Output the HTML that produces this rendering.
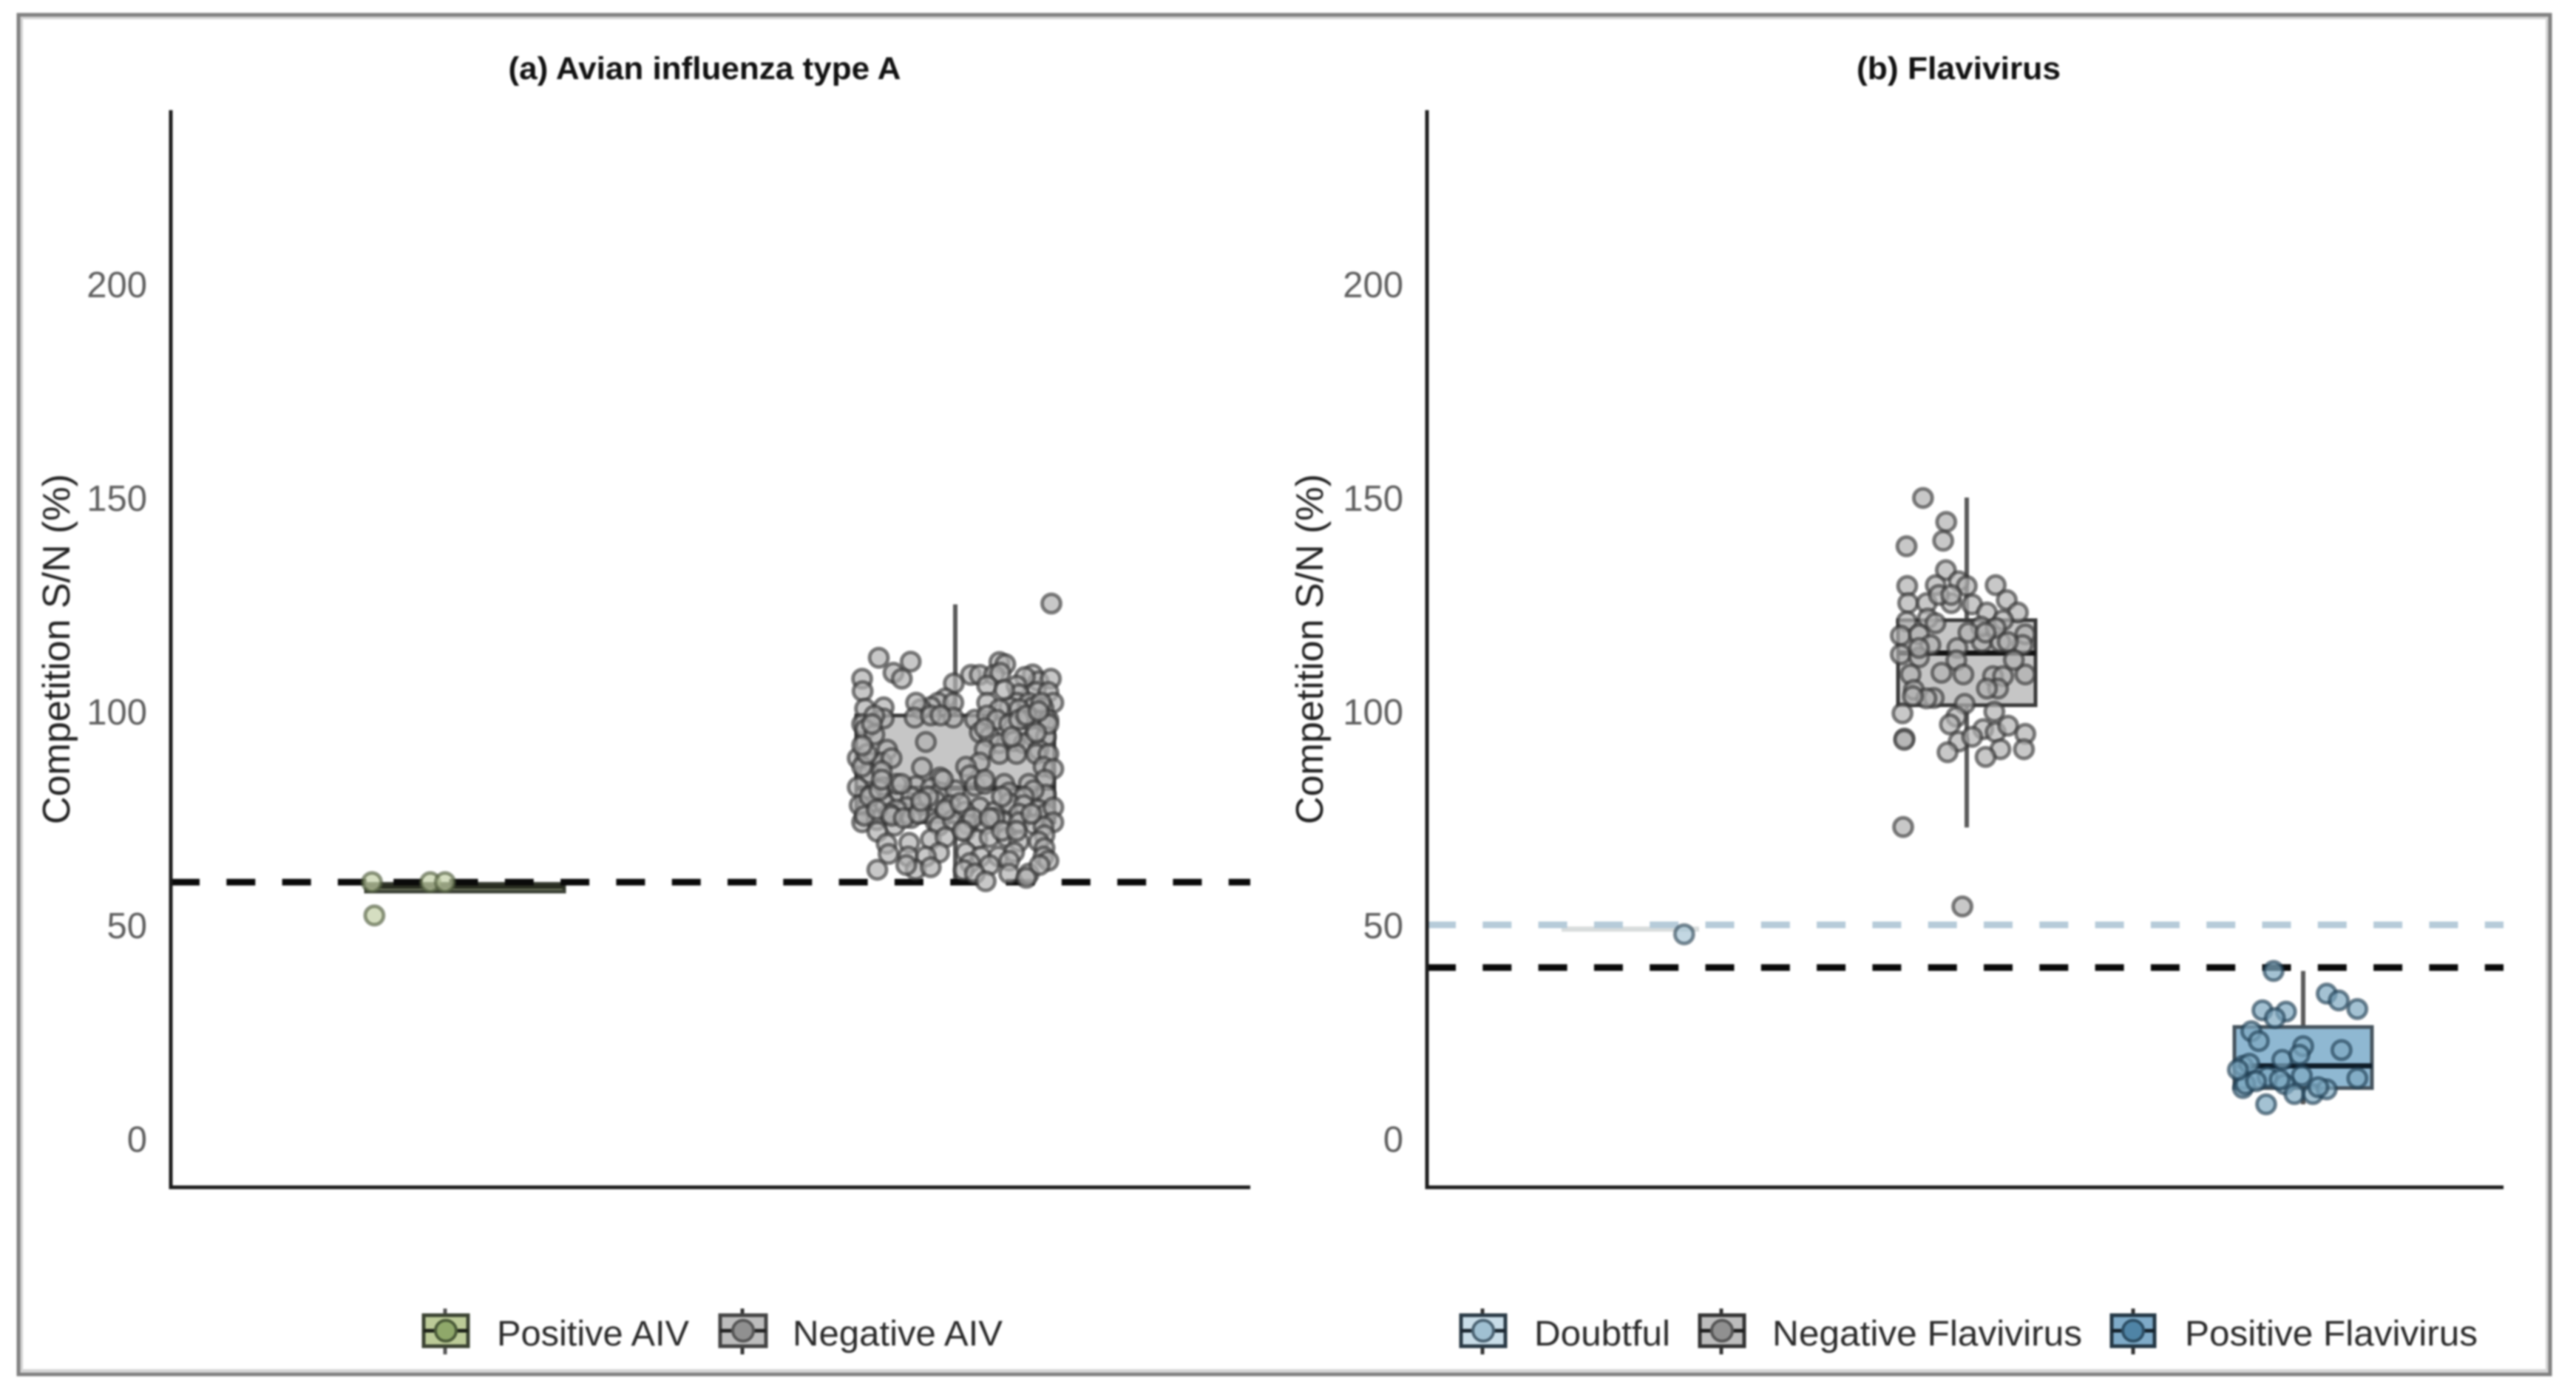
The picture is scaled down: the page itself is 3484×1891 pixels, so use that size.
<!DOCTYPE html>
<html lang="en">
<head>
<meta charset="utf-8">
<title>Competition S/N boxplots</title>
<style>
html,body{margin:0;padding:0;background:#fff;}
body{width:3484px;height:1891px;overflow:hidden;}
svg{display:block;filter:blur(1.3px);font-family:"Liberation Sans",sans-serif;}
</style>
</head>
<body>
<svg id="chart" xmlns="http://www.w3.org/2000/svg" width="3484" height="1891" viewBox="0 0 3484 1891">
  <rect x="0" y="0" width="3484" height="1891" fill="#ffffff"/>
  <rect x="29" y="24" width="3416" height="1830" fill="none" stroke="#d4d4d4" stroke-width="4"/>
  <rect x="25" y="20" width="3424" height="1839" fill="none" stroke="#808080" stroke-width="5"/>
  <text x="953" y="107" text-anchor="middle" font-size="43" font-weight="bold" fill="#111" textLength="531" lengthAdjust="spacingAndGlyphs">(a) Avian influenza type A</text>
  <text x="2649" y="107" text-anchor="middle" font-size="43" font-weight="bold" fill="#111" textLength="276" lengthAdjust="spacingAndGlyphs">(b) Flavivirus</text>
  <text transform="translate(94,878) rotate(-90)" text-anchor="middle" font-size="52" fill="#222">Competition S/N (%)</text>
  <text transform="translate(1789,878) rotate(-90)" text-anchor="middle" font-size="52" fill="#222">Competition S/N (%)</text>
  <g id="ticks-a"></g>
  <g id="ticks-b"></g>
  <g id="boxes"></g>
  <g id="refs"></g>
  <g id="points"></g>
  <g stroke="#1c1c1c" stroke-width="5" fill="none">
    <path d="M231 149V1606H1691"/>
    <path d="M1930 149V1606H3386"/>
  </g>
  <g font-size="48" fill="#2a2a2a">
    <g>
      <line x1="602" x2="602" y1="1770" y2="1832" stroke="#555" stroke-width="5"/>
      <rect x="573" y="1779" width="60" height="42" fill="#bccb98" stroke="#3c4433" stroke-width="5"/>
      <line x1="573" x2="633" y1="1800" y2="1800" stroke="#1d2218" stroke-width="5"/>
      <circle cx="603" cy="1800" r="14" fill="#8fa86a" stroke="#4a5a38" stroke-width="4"/>
      <text x="672" y="1820" textLength="260" lengthAdjust="spacingAndGlyphs">Positive AIV</text>
    </g>
    <g>
      <line x1="1004" x2="1004" y1="1770" y2="1832" stroke="#333" stroke-width="5"/>
      <rect x="974" y="1779" width="62" height="42" fill="#bdbdbd" stroke="#444" stroke-width="5"/>
      <line x1="974" x2="1036" y1="1800" y2="1800" stroke="#222" stroke-width="5"/>
      <circle cx="1005" cy="1800" r="14" fill="#909090" stroke="#555" stroke-width="4"/>
      <text x="1072" y="1820" textLength="284" lengthAdjust="spacingAndGlyphs">Negative AIV</text>
    </g>
  </g>
  <g font-size="48" fill="#2a2a2a">
    <g>
      <line x1="2005" x2="2005" y1="1770" y2="1832" stroke="#333" stroke-width="5"/>
      <rect x="1976" y="1779" width="60" height="42" fill="#c9dde8" stroke="#2a3a46" stroke-width="5"/>
      <line x1="1976" x2="2036" y1="1800" y2="1800" stroke="#1a2630" stroke-width="5"/>
      <circle cx="2006" cy="1800" r="14" fill="#a0c0d2" stroke="#4a6272" stroke-width="4"/>
      <text x="2075" y="1820" textLength="184" lengthAdjust="spacingAndGlyphs">Doubtful</text>
    </g>
    <g>
      <line x1="2328" x2="2328" y1="1770" y2="1832" stroke="#333" stroke-width="5"/>
      <rect x="2299" y="1779" width="60" height="42" fill="#bdbdbd" stroke="#333" stroke-width="5"/>
      <line x1="2299" x2="2359" y1="1800" y2="1800" stroke="#1d1d1d" stroke-width="5"/>
      <circle cx="2329" cy="1800" r="14" fill="#909090" stroke="#555" stroke-width="4"/>
      <text x="2397" y="1820" textLength="419" lengthAdjust="spacingAndGlyphs">Negative Flavivirus</text>
    </g>
    <g>
      <line x1="2885" x2="2885" y1="1770" y2="1832" stroke="#333" stroke-width="5"/>
      <rect x="2856" y="1779" width="58" height="42" fill="#7fabc8" stroke="#243846" stroke-width="5"/>
      <line x1="2856" x2="2914" y1="1800" y2="1800" stroke="#14222c" stroke-width="5"/>
      <circle cx="2885" cy="1800" r="14" fill="#4f84a6" stroke="#2c4e64" stroke-width="4"/>
      <text x="2955" y="1820" textLength="396" lengthAdjust="spacingAndGlyphs">Positive Flavivirus</text>
    </g>
  </g>
</svg>
<script>
var yTickLabels = [0, 50, 100, 150, 200];
var categoriesA = ["Positive AIV", "Negative AIV"];
var categoriesB = ["Doubtful", "Negative Flavivirus", "Positive Flavivirus"];
var cutoffA = [60];
var cutoffB = [40];
var doubtfulCutoffB = [50];

// box stats: [whisker low, q1, median, q3, whisker high]
var statsPositiveAiv = [57.8, 57.8, 59, 59.6, 59.6];
var statsNegativeAiv = [60, 74, 82, 99, 125];
var statsDoubtful = [49, 49, 49, 49, 49];
var statsNegativeFlavi = [72.8, 101.4, 113.6, 121.3, 150];
var statsPositiveFlavi = [8, 11.8, 17, 26.1, 39.2];

var positiveAivJitter = [-0.19, -0.071, -0.041, -0.185];
var positiveAivValues = [60, 60, 60, 52.2];

var negativeAivJitter = [0.196,
 -0.156,-0.091,0.09,0.102,
 -0.126,-0.109,-0.19,0.032,0.05,0.079,0.092,0.158,0.17,0.195,0.142,
 -0.189,-0.003,0.065,0.125,0.165,0.19,0.13,
 -0.184,-0.146,-0.02,-0.035,-0.05,-0.07,-0.08,-0.004,0.065,0.125,0.15,0.2,0.18,0.16,0.11,0.13,0.09,
 -0.146,-0.19,-0.165,-0.083,-0.05,-0.004,0.04,0.065,0.085,0.11,0.15,0.175,0.19,-0.03,0.13,
 -0.184,-0.165,-0.06,0.05,0.07,0.09,0.12,0.16,0.185,0.14,0.17,
 -0.139,-0.199,-0.17,-0.15,0.06,0.09,0.125,0.165,0.19,-0.13,0.05,0.18,
 -0.068,-0.031,-0.176,-0.19,-0.15,0.022,0.03,0.2,0.183,
 -0.146,-0.199,-0.171,-0.114,-0.08,-0.05,-0.03,0,0.04,0.06,0.1,0.15,0.185,-0.12,-0.09,0.11,0.16,0.14,
 -0.18,-0.144,-0.099,-0.068,-0.04,-0.01,-0.195,-0.12,0.05,0.08,0.11,0.14,0.17,0.185,0.2,0.02,-0.02,0.13,
 -0.19,-0.16,-0.124,-0.09,-0.04,-0.033,-0.005,0.025,0.06,0.1,0.13,0.16,0.2,0.18,0.08,
 -0.159,-0.14,-0.094,-0.05,-0.02,0.02,0.045,0.07,0.105,0.13,0.182,0.17,
 -0.136,-0.096,-0.033,-0.06,0.022,0.052,0.088,0.12,0.182,0.18,0.19,0.03,0.07,0.11,
 -0.159,-0.081,-0.1,-0.05,0.017,0.04,0.062,0.11,0.15,0.172,0.145,
 -0.175,-0.155,-0.135,-0.185,-0.16,-0.13,-0.105,-0.075,-0.055,-0.02,0.01,0.035,0.07,0.095,0.125,0.155,
 -0.18,-0.15,-0.11,-0.07,-0.025,0.015,0.06,0.095,0.175,0.19,0.165,0.145,0.115,0.06,0.1,0.17,-0.17,-0.19];
var negativeAivValues = [125.2,
 112.5,111.6,111.5,111,
 109,107.6,107.6,108.5,108.5,108.5,109,108.6,107,107.6,108,
 104.7,106.5,106,106,104.5,104.5,104,
 100.6,100.9,103,102,101,100.5,102,102,102,102,102,102,100.7,101,101,100.5,100.5,
 98.3,97,99,98.5,99,98.5,98,99,98,97,98,98,98,99,98,
 95.7,94.5,92.8,95,94,92.5,93,94,94,92.5,91,
 91,89,88,88,91,90,90,90,90,89,88,87,
 86.8,84.5,85.4,87,86,87,85,86.5,84,
 82.2,82.2,80.4,80.4,82.5,82,81,81.5,82.5,83,83,83,80.5,83,80,81,81.5,80,
 77.6,78.4,77.6,78.1,79,78,78,77,77.5,76.5,78.5,78,77,76,77.5,76.5,76.5,76,
 74,74.5,73.2,75,74,73.2,74.5,73.5,73.5,74,74,73.5,74,73,75,
 71.8,69,69.2,70,70.5,72,70,70.5,70.5,69.5,71,69.5,
 66.6,66,66.9,66,67,66,66,67,68,66,65,64.5,64,65,
 62.9,62.9,64,63.5,62.8,62,60.2,62,62,64,61,
 80,81.5,76,75.5,77,75.5,75,76,80,77,78.5,75,75,72,72,76,
 90,84,83,79,84,72,84,80,102,97,95,99,94,96,105,100,97,92];

var doubtfulJitter = [0.16];
var doubtfulValues = [47.8];

var negativeFlaviJitter = [-0.13,-0.061,-0.07,-0.179,-0.062,-0.177,-0.092,-0.024,0.086,-0.174,-0.119,-0.046,-0.083,0,0.016,0.06,0.119,0.152,0.108,-0.116,-0.178,-0.196,-0.142,-0.108,-0.028,0.045,0.1,0.174,-0.196,-0.142,-0.031,-0.075,-0.01,-0.167,0.078,0.108,0.174,0.093,-0.157,-0.098,0.06,-0.006,-0.191,0.082,-0.031,-0.05,-0.185,-0.186,0.049,0.086,0.123,0.174,-0.024,0.016,-0.057,0.1,0.056,0.17,-0.189,-0.013,0.042,0.086,0.005,-0.093,0.056,0.166,0.122,-0.046,-0.142,-0.12,0.14,-0.16];
var negativeFlaviValues = [149.9,144.3,139.9,138.6,133,129.3,129.5,130.4,129.5,125.3,125.3,125.3,127.2,129.3,125,123.1,126,123.1,121.3,121.7,121,117.7,118,115.5,114.8,116.2,116.2,118,113.3,112.6,111.9,109,108.6,108.6,108.2,108.2,108.6,105.3,105,103.1,105.3,101.7,99.5,99.9,98.7,96.9,93.6,93.3,95.8,95.1,96.6,94.7,92.9,94,90.4,91.1,89.3,91.1,72.9,54.3,119.8,119.5,118.4,120.6,118.4,115.5,116.2,127.2,114.8,103,112,103.5];

var positiveFlaviJitter = [-0.088,0.07,0.106,0.161,-0.121,-0.051,-0.084,-0.154,-0.132,0,0.114,-0.062,-0.011,-0.179,-0.16,-0.004,-0.106,0.161,-0.179,-0.172,-0.055,-0.14,-0.026,0.029,0.07,-0.11,-0.194,-0.07,0.045];
var positiveFlaviValues = [39.2,33.9,32.3,30.3,30,29.7,28.2,25.1,22.8,21.6,20.7,18.4,19.6,17,17.5,14.7,14.4,14.1,11.8,12.7,12.7,13.4,10.4,10.4,11.5,8,16.1,13.8,12];

var NS = "http://www.w3.org/2000/svg";

function yScale(v) { return 1540 - 5.78 * v; }
function xScaleA(c) { return 629 + 663 * c; }
function xScaleB(c) { return 2205 + 455 * c; }

function make(tag, parent, attrs) {
  var el = document.createElementNS(NS, tag);
  for (var k in attrs) el.setAttribute(k, attrs[k]);
  parent.appendChild(el);
  return el;
}

function drawTicks(groupId, x) {
  var g = document.getElementById(groupId);
  yTickLabels.forEach(function (t) {
    var el = make("text", g, {x: x, y: yScale(t) + 18, "text-anchor": "end", "font-size": 49, fill: "#5e5e5e"});
    
    
    el.textContent = t;
  });
}

function drawBox(stats, cx, width, fill, stroke, medianColor, whisker) {
  var g = document.getElementById("boxes");
  if (whisker) {
    var w = make("line", g, {x1: cx, x2: cx, y1: yScale(stats[4]), y2: yScale(stats[0]), stroke: "#5a5a5a", "stroke-width": 6});
    
    
  }
  var top = yScale(stats[3]);
  var bottom = yScale(stats[1]);
  var r = make("rect", g, {x: cx - width / 2, y: top, width: width, height: bottom - top, fill: fill, stroke: stroke, "stroke-width": 5});
  
  
  var m = make("line", g, {x1: cx - width / 2, x2: cx + width / 2, y1: yScale(stats[2]), y2: yScale(stats[2]), stroke: medianColor, "stroke-width": 7});
  
  
}

function drawRef(value, x1, x2, color, width) {
  var g = document.getElementById("refs");
  var l = make("line", g, {x1: x1, x2: x2, y1: yScale(value), y2: yScale(value), stroke: color, "stroke-width": width, "stroke-dasharray": "39 36.3"});
  
  
}

function drawPoints(xFn, cat, jitter, values, fill, stroke) {
  var g = document.getElementById("points");
  values.forEach(function (v, i) {
    var c = make("circle", g, {cx: xFn(cat + jitter[i]), cy: yScale(v), r: 12.5, fill: fill, "fill-opacity": 0.7, stroke: stroke, "stroke-opacity": 0.62, "stroke-width": 5});
    
    
  });
}

drawTicks("ticks-a", 199);
drawTicks("ticks-b", 1898);

drawBox(statsPositiveAiv, xScaleA(0), 268, "#aab68e", "#3b4035", "#2a2e22", false);
drawBox(statsNegativeAiv, xScaleA(1), 268, "#c6c6c6", "#3a3a3a", "#111111", true);
drawBox(statsDoubtful, xScaleB(0), 186, "#dfe4e6", "#d8dcdc", "#d8dcdc", false);
drawBox(statsNegativeFlavi, xScaleB(1), 186, "#c6c6c6", "#3a3a3a", "#111111", true);
drawBox(statsPositiveFlavi, xScaleB(2), 186, "#8fb8d2", "#46545e", "#0e1c28", true);

drawRef(doubtfulCutoffB[0], 1930, 3386, "#b6cbd9", 9);
drawRef(cutoffA[0], 231, 1691, "#0a0a0a", 9);
drawRef(cutoffB[0], 1930, 3386, "#0a0a0a", 9);

drawPoints(xScaleA, 0, positiveAivJitter, positiveAivValues, "#c3d0a6", "#4e5a3c");
drawPoints(xScaleA, 1, negativeAivJitter, negativeAivValues, "#b0b0b0", "#333333");
drawPoints(xScaleB, 0, doubtfulJitter, doubtfulValues, "#a9c6d6", "#2d4656");
drawPoints(xScaleB, 1, negativeFlaviJitter, negativeFlaviValues, "#b0b0b0", "#333333");
drawPoints(xScaleB, 2, positiveFlaviJitter, positiveFlaviValues, "#7ea8c0", "#1d3c50");
</script>
</body>
</html>
